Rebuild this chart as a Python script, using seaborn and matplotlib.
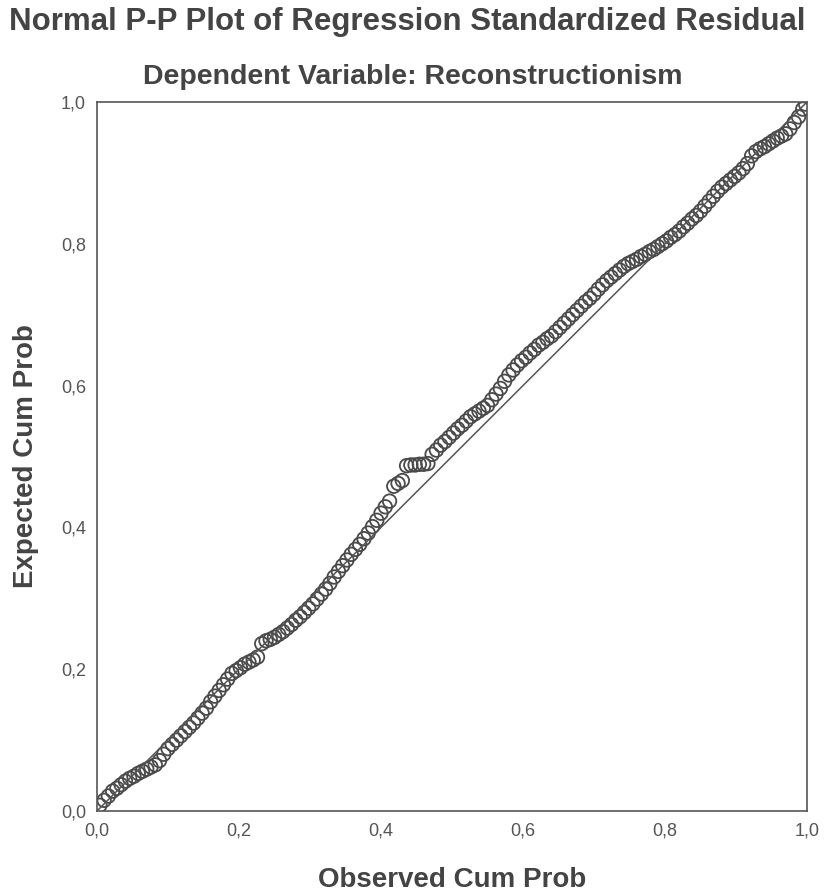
import matplotlib
matplotlib.use("Agg")
import matplotlib.pyplot as plt
from matplotlib.ticker import FuncFormatter
import numpy as np
import pandas as pd
import seaborn as sns

# P-P plot values (observed vs expected cumulative prob)
observed = [0.004, 0.010, 0.016, 0.022, 0.028, 0.034, 0.040, 0.046, 0.052, 0.058,
            0.064, 0.070, 0.076, 0.082, 0.088, 0.094, 0.100, 0.106, 0.112, 0.118,
            0.124, 0.130, 0.136, 0.142, 0.148, 0.154, 0.160, 0.166, 0.172, 0.178,
            0.184, 0.190, 0.196, 0.202, 0.208, 0.214, 0.220, 0.226, 0.232, 0.238,
            0.244, 0.250, 0.256, 0.262, 0.268, 0.274, 0.280, 0.286, 0.292, 0.298,
            0.304, 0.310, 0.316, 0.322, 0.328, 0.334, 0.340, 0.346, 0.352, 0.358,
            0.364, 0.370, 0.376, 0.382, 0.388, 0.394, 0.400, 0.406, 0.412, 0.418,
            0.424, 0.430, 0.436, 0.442, 0.448, 0.454, 0.460, 0.466, 0.472, 0.478,
            0.484, 0.490, 0.496, 0.502, 0.508, 0.514, 0.520, 0.526, 0.532, 0.538,
            0.544, 0.550, 0.556, 0.562, 0.568, 0.574, 0.580, 0.586, 0.592, 0.598,
            0.604, 0.610, 0.616, 0.622, 0.628, 0.634, 0.640, 0.646, 0.652, 0.658,
            0.664, 0.670, 0.676, 0.682, 0.688, 0.694, 0.700, 0.706, 0.712, 0.718,
            0.724, 0.730, 0.736, 0.742, 0.748, 0.754, 0.760, 0.766, 0.772, 0.778,
            0.784, 0.790, 0.796, 0.802, 0.808, 0.814, 0.820, 0.826, 0.832, 0.838,
            0.844, 0.850, 0.856, 0.862, 0.868, 0.874, 0.880, 0.886, 0.892, 0.898,
            0.904, 0.910, 0.916, 0.922, 0.928, 0.934, 0.940, 0.946, 0.952, 0.958,
            0.964, 0.970, 0.976, 0.982, 0.988, 0.994, 0.998]

expected = [0.008, 0.015, 0.021, 0.028, 0.032, 0.037, 0.042, 0.046, 0.049, 0.053,
            0.056, 0.059, 0.062, 0.065, 0.071, 0.080, 0.088, 0.094, 0.100, 0.106,
            0.112, 0.118, 0.124, 0.131, 0.138, 0.145, 0.154, 0.162, 0.170, 0.178,
            0.186, 0.194, 0.198, 0.202, 0.207, 0.210, 0.213, 0.217, 0.236, 0.240,
            0.242, 0.245, 0.249, 0.253, 0.258, 0.263, 0.269, 0.274, 0.280, 0.286,
            0.292, 0.299, 0.306, 0.313, 0.321, 0.330, 0.338, 0.346, 0.354, 0.362,
            0.369, 0.376, 0.384, 0.392, 0.401, 0.410, 0.420, 0.429, 0.437, 0.458,
            0.462, 0.466, 0.487, 0.488, 0.488, 0.489, 0.489, 0.490, 0.503, 0.509,
            0.516, 0.521, 0.527, 0.533, 0.539, 0.544, 0.550, 0.556, 0.560, 0.564,
            0.568, 0.572, 0.580, 0.588, 0.596, 0.606, 0.615, 0.622, 0.629, 0.635,
            0.640, 0.646, 0.651, 0.657, 0.661, 0.666, 0.670, 0.676, 0.682, 0.688,
            0.694, 0.700, 0.706, 0.712, 0.718, 0.723, 0.729, 0.736, 0.742, 0.748,
            0.753, 0.758, 0.763, 0.768, 0.772, 0.775, 0.778, 0.782, 0.785, 0.789,
            0.792, 0.796, 0.800, 0.804, 0.809, 0.813, 0.818, 0.824, 0.829, 0.835,
            0.840, 0.846, 0.853, 0.860, 0.867, 0.874, 0.880, 0.885, 0.890, 0.895,
            0.900, 0.906, 0.913, 0.924, 0.930, 0.934, 0.937, 0.941, 0.945, 0.949,
            0.952, 0.955, 0.962, 0.971, 0.979, 0.990, 0.997]

diag = [0.0, 1.0]
ticks = [0.0, 0.2, 0.4, 0.6, 0.8, 1.0]

title = "Normal P-P Plot of Regression Standardized Residual"
subtitle = "Dependent Variable: Reconstructionism"

sns.set_style("white")
plt.rcParams['font.family'] = ['Liberation Sans', 'DejaVu Sans']

df = pd.DataFrame({'obs': observed, 'exp': expected})

fig = plt.figure(figsize=(8.25, 8.96), dpi=100)
ax = fig.add_axes([0.1176, 0.0949, 0.8606, 0.7913])

sns.lineplot(x=diag, y=diag, ax=ax, color='#555555', linewidth=1.1)
sns.scatterplot(data=df, x='obs', y='exp', ax=ax, s=95, marker='o',
                facecolors='none', edgecolor='#4a4a4a', linewidth=1.3)

ax.set_xlim(0, 1)
ax.set_ylim(0, 1)
ax.set_xticks(ticks)
ax.set_yticks(ticks)
fmt = FuncFormatter(lambda v, p: ('%.1f' % v).replace('.', ','))
ax.xaxis.set_major_formatter(fmt)
ax.yaxis.set_major_formatter(fmt)
ax.tick_params(direction='out', length=6, width=1.2, color='#555555',
               labelsize=13, labelcolor='#555555', pad=2)
for sp in ax.spines.values():
    sp.set_color('#555555')
    sp.set_linewidth(1.2)

ax.set_xlabel("Observed Cum Prob", fontsize=20, fontweight='bold', color='#444444', labelpad=20)
ax.set_ylabel("Expected Cum Prob", fontsize=20, fontweight='bold', color='#444444', labelpad=16)

fig.text(0.494, 0.975, title, ha='center', va='center', fontsize=22.5,
         fontweight='bold', color='#444444')
fig.text(0.5, 0.914, subtitle, ha='center', va='center', fontsize=20.5,
         fontweight='bold', color='#444444')

fig.savefig("out.png", dpi=100)
